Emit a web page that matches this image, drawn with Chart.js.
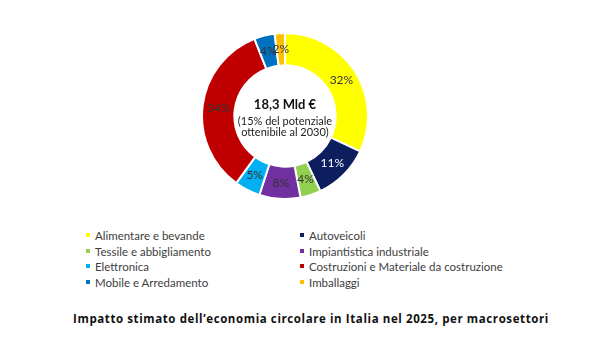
<!DOCTYPE html>
<html>
<head>
<meta charset="utf-8">
<script src="https://cdn.jsdelivr.net/npm/chart.js@4"></script>
<style>
  body { margin: 0; background: #fff; width: 600px; height: 337px; position: relative; overflow: hidden; font-family: Lato, sans-serif; }
  #box { position: absolute; left: 201px; top: 32px; width: 168px; height: 168px; }
  #legend { position: absolute; left: 86px; top: 228px; display: grid; grid-template-columns: 214px 260px; row-gap: 0; }
  .item { font-size: 11.5px; color: #404040; line-height: 15.7px; white-space: nowrap; }
  .item i { display: inline-block; width: 4px; height: 4px; margin-right: 5px; vertical-align: 3px; }
  #title { position: absolute; left: 0; width: 622px; top: 311px; text-align: center; font-family: "Open Sans", sans-serif; font-weight: bold; font-size: 11.5px; letter-spacing: 0.6px; color: #111; }
</style>
</head>
<body>
<div id="box"><canvas id="donut"></canvas></div>
<div id="legend"></div>
<div id="title">Impatto stimato dell’economia circolare in Italia nel 2025, per macrosettori</div>
<script>
// dati: quota percentuale per macrosettore
const settori = ['Alimentare e bevande', 'Autoveicoli', 'Tessile e abbigliamento', 'Impiantistica industriale',
                 'Elettronica', 'Costruzioni e Materiale da costruzione', 'Mobile e Arredamento', 'Imballaggi'];
const quote = [32, 11, 4, 8, 5, 34, 4, 2];
const colori = ['#FFFF00', '#0D1E5E', '#92D050', '#7030A0', '#00B0F0', '#C00000', '#0070C0', '#FFC000'];
const coloriEtichette = ['#333', '#fff', '#333', '#333', '#333', '#333', '#333', '#333'];
const testoCentro = ['18,3 Mld €', '(15% del potenziale', 'ottenibile al 2030)'];

// legenda a due colonne
const legend = document.getElementById('legend');
settori.forEach((s, i) => {
    const d = document.createElement('div');
    d.className = 'item';
    d.innerHTML = '<i style="background:' + colori[i] + '"></i>' + s;
    legend.appendChild(d);
});

// etichette percentuali sugli spicchi + testo centrale
const etichette = {
    id: 'etichette',
    afterDatasetsDraw(chart) {
        const ctx = chart.ctx;
        const meta = chart.getDatasetMeta(0);
        ctx.save();
        ctx.textAlign = 'center';
        ctx.textBaseline = 'middle';
        ctx.font = '12px Lato';
        meta.data.forEach((arc, i) => {
            const p = arc.tooltipPosition();
            ctx.fillStyle = coloriEtichette[i];
            ctx.fillText(quote[i] + '%', p.x, p.y);
        });
        const cx = (chart.chartArea.left + chart.chartArea.right) / 2;
        const cy = (chart.chartArea.top + chart.chartArea.bottom) / 2;
        ctx.fillStyle = '#111';
        ctx.font = 'bold 13px Lato';
        ctx.fillText(testoCentro[0], cx, cy - 11);
        ctx.fillStyle = '#222';
        ctx.font = '11px Lato';
        ctx.fillText(testoCentro[1], cx, cy + 5);
        ctx.fillText(testoCentro[2], cx, cy + 16);
        ctx.restore();
    }
};

new Chart(document.getElementById('donut').getContext('2d'), {
    type: 'doughnut',
    data: {
        labels: settori,
        datasets: [{
            data: quote,
            backgroundColor: colori,
            borderColor: '#fff',
            borderWidth: 2
        }]
    },
    options: {
        responsive: true,
        maintainAspectRatio: false,
        animation: false,
        cutout: '61%',
        plugins: {
            legend: { display: false },
            tooltip: { enabled: false }
        }
    },
    plugins: [etichette]
});
</script>
</body>
</html>
